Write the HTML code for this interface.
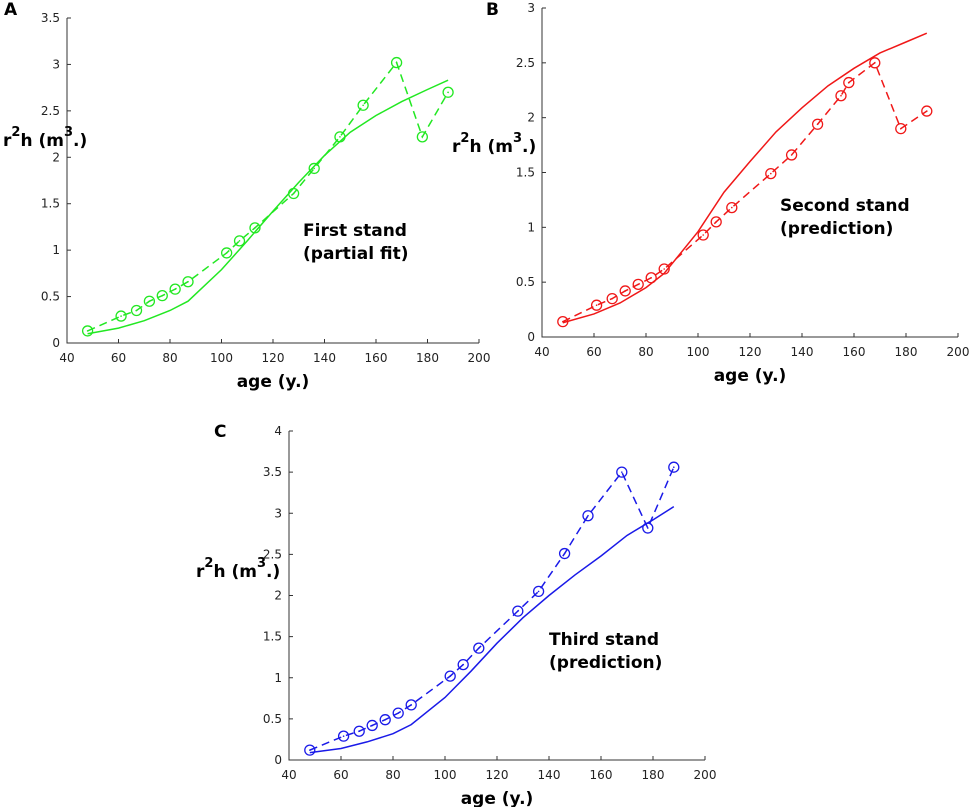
<!DOCTYPE html>
<html><head><meta charset="utf-8">
<style>
body{margin:0;background:#fff;}
svg{display:block;font-family:"DejaVu Sans","Liberation Sans",sans-serif;}
.tick{font-size:12px;fill:#222;}
.lab{font-size:17px;font-weight:bold;fill:#000;}
.ann{font-size:17px;font-weight:bold;fill:#000;}
</style></head>
<body>
<svg id="fig" width="970" height="807" viewBox="0 0 970 807"></svg>
<script>
const agesA=[48,61,67,72,77,82,87,102,107,113,128,136,146,155,168,178,188];
const obsA=[0.13,0.29,0.35,0.45,0.51,0.58,0.66,0.97,1.10,1.24,1.61,1.88,2.22,2.56,3.02,2.22,2.70];
const agesB=[48,61,67,72,77,82,87,102,107,113,128,136,146,155,158,168,178,188];
const obsB=[0.14,0.29,0.35,0.42,0.48,0.54,0.62,0.93,1.05,1.18,1.49,1.66,1.94,2.20,2.32,2.50,1.90,2.06];
const agesC=[48,61,67,72,77,82,87,102,107,113,128,136,146,155,168,178,188];
const obsC=[0.12,0.29,0.35,0.42,0.49,0.57,0.67,1.02,1.16,1.36,1.81,2.05,2.51,2.97,3.50,2.82,3.56];
const fitAges=[48,60,70,80,87,100,110,120,130,140,150,160,170,180,188];
const fitA=[0.10,0.16,0.24,0.35,0.45,0.79,1.10,1.42,1.73,2.02,2.27,2.45,2.60,2.73,2.83];
const fitB=[0.13,0.21,0.31,0.45,0.58,0.96,1.32,1.60,1.87,2.09,2.29,2.45,2.59,2.69,2.77];
const fitC=[0.09,0.14,0.22,0.32,0.43,0.76,1.08,1.42,1.73,2.00,2.25,2.48,2.73,2.92,3.08];
const xTicks=[40,60,80,100,120,140,160,180,200];
const yTicksA=[0,0.5,1,1.5,2,2.5,3,3.5];
const yTicksB=[0,0.5,1,1.5,2,2.5,3];
const yTicksC=[0,0.5,1,1.5,2,2.5,3,3.5,4];

const NS="http://www.w3.org/2000/svg";
const svg=document.getElementById('fig');
function mk(tag,attrs,parent){const e=document.createElementNS(NS,tag);for(const k in attrs)e.setAttribute(k,attrs[k]);(parent||svg).appendChild(e);return e;}

function panel(p){
  const g=mk('g',{});
  
  
  const sx=v=>p.x0+(v-40)/160*(p.x1-p.x0);
  const sy=v=>p.y0-(v/p.ymax)*(p.y0-p.y1);
  const ax=mk('path',{d:`M${p.x0},${p.y1}V${p.y0}H${p.x1}`,fill:'none',stroke:'#333','stroke-width':1},g);
  
  
  xTicks.forEach(t=>{
    mk('line',{x1:sx(t),x2:sx(t),y1:p.y0,y2:p.y0-4,stroke:'#333'},g);
    const tx=mk('text',{x:sx(t),y:p.y0+19,'text-anchor':'middle',class:'tick'},g);
    tx.textContent=t;
    
    
  });
  p.yTicks.forEach(t=>{
    mk('line',{x1:p.x0,x2:p.x0+4,y1:sy(t),y2:sy(t),stroke:'#333'},g);
    const tx=mk('text',{x:p.x0-7,y:sy(t)+4,'text-anchor':'end',class:'tick'},g);
    tx.textContent=t;
    
    
  });
  const fit=mk('polyline',{points:fitAges.map((a,i)=>sx(a)+','+sy(p.fit[i])).join(' '),fill:'none',stroke:p.col,'stroke-width':1.5},g);
  
  
  const obs=mk('polyline',{points:p.ages.map((a,i)=>sx(a)+','+sy(p.obs[i])).join(' '),fill:'none',stroke:p.col,'stroke-width':1.5,'stroke-dasharray':'8,5'},g);
  
  
  p.ages.forEach((a,i)=>{
    const c=mk('circle',{cx:sx(a),cy:sy(p.obs[i]),r:5,fill:'none',stroke:p.col,'stroke-width':1.3},g);
    
    
    mk('circle',{cx:sx(a),cy:sy(p.obs[i]),r:0.8,fill:p.col},g);
  });
  const pl=mk('text',{x:p.lx,y:p.ly,class:'lab','font-size':'14'},g);
  pl.textContent=p.letter;
  
  
  const yl=mk('text',{x:p.ylx,y:p.yly,class:'lab'},g);
  yl.innerHTML='r<tspan dy="-10" font-size="13">2</tspan><tspan dy="10">h (m</tspan><tspan dy="-10" font-size="13">3</tspan><tspan dy="10">.)</tspan>';
  
  
  const xl=mk('text',{x:(p.x0+p.x1)/2,y:p.y0+44,'text-anchor':'middle',class:'lab'},g);
  xl.textContent='age (y.)';
  
  
  p.ann.forEach((s,i)=>{
    const t=mk('text',{x:p.ax,y:p.ay+i*23,class:'ann'},g);
    t.textContent=s;
    
    
  });
}
panel({name:'panel-a',letter:'A',lx:4,ly:15,x0:67,x1:479,y0:343,y1:18,ymax:3.5,yTicks:yTicksA,col:'#22e822',ages:agesA,obs:obsA,fit:fitA,ylx:3,yly:146,ann:['First stand','(partial fit)'],ax:303,ay:236});
panel({name:'panel-b',letter:'B',lx:486,ly:15,x0:542,x1:958,y0:337,y1:8,ymax:3,yTicks:yTicksB,col:'#f01818',ages:agesB,obs:obsB,fit:fitB,ylx:452,yly:152,ann:['Second stand','(prediction)'],ax:780,ay:211});
panel({name:'panel-c',letter:'C',lx:214,ly:437,x0:289,x1:705,y0:760,y1:431,ymax:4,yTicks:yTicksC,col:'#1a1ae8',ages:agesC,obs:obsC,fit:fitC,ylx:196,yly:577,ann:['Third stand','(prediction)'],ax:549,ay:645});
</script>
</body></html>
